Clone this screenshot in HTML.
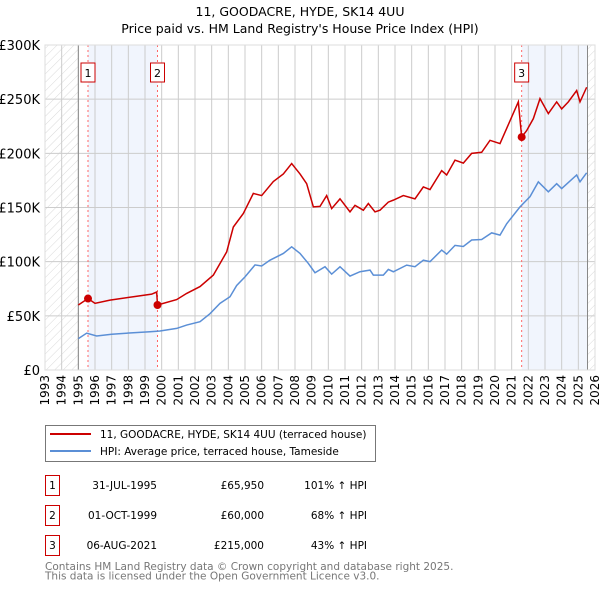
<!DOCTYPE html>
<html><head><meta charset="utf-8"><style>
body{margin:0;background:#fff;font-family:"DejaVu Sans","Liberation Sans",sans-serif;}
svg{display:block}
</style></head><body>
<svg id="chart" width="600" height="590" xmlns="http://www.w3.org/2000/svg">
<defs><pattern id="hatch" width="6" height="6" patternUnits="userSpaceOnUse" patternTransform="rotate(45)"><line x1="0" y1="0" x2="0" y2="6" stroke="#d0d0d0" stroke-width="0.8"/></pattern></defs>
<text x="300" y="16" text-anchor="middle" font-size="12.5">11, GOODACRE, HYDE, SK14 4UU</text>
<text x="300" y="33" text-anchor="middle" font-size="12.5">Price paid vs. HM Land Registry's House Price Index (HPI)</text>
<g id="plot"></g>
<g>
<rect x="45.5" y="425.5" width="330" height="36" fill="#fff" stroke="#777"/>
<line x1="50" y1="434" x2="91" y2="434" stroke="#cc0000" stroke-width="2"/>
<text x="100" y="438" font-size="10.5">11, GOODACRE, HYDE, SK14 4UU (terraced house)</text>
<line x1="50" y1="451" x2="91" y2="451" stroke="#5b8fd6" stroke-width="2"/>
<text x="100" y="455" font-size="10.5">HPI: Average price, terraced house, Tameside</text>
</g>
<g id="table" font-size="10.5"></g>
<text x="45" y="570" font-size="10.5" fill="#777">Contains HM Land Registry data © Crown copyright and database right 2025.</text>
<text x="45" y="579.5" font-size="10.5" fill="#777">This data is licensed under the Open Government Licence v3.0.</text>
</svg>
<script>
const redYears=[1995.0,1995.58,1996.0,1996.9,1998.3,1999.4,1999.7,1999.75,2000.9,2001.5,2002.3,2003.1,2003.9,2004.3,2004.9,2005.5,2006.0,2006.7,2007.3,2007.8,2008.3,2008.7,2009.1,2009.5,2009.9,2010.2,2010.7,2011.3,2011.6,2012.1,2012.4,2012.8,2013.1,2013.6,2013.9,2014.5,2015.2,2015.7,2016.1,2016.8,2017.1,2017.6,2018.1,2018.6,2019.2,2019.7,2020.3,2020.7,2021.4,2021.6,2021.9,2022.3,2022.7,2023.2,2023.7,2024.0,2024.4,2024.9,2025.1,2025.5];
const redValues=[60,65.95,61.5,64.5,67.6,70,72,60,65,70.7,77,87.6,109,132,144.5,163,161,174,181,190.6,181,172,150.6,151,161,149,158,146,152,147.5,153.7,146,147.5,155,156.8,161,158,169,166.6,184,180,193.7,191,200,201,212,209,223,247.5,215,221,232,250.5,236.7,247.5,241,247.5,258,247.5,261];
const hpiYears=[1995.0,1995.5,1996.1,1997.0,1998.3,1999.3,1999.9,2000.9,2001.5,2002.3,2002.9,2003.5,2004.1,2004.5,2005.0,2005.6,2006.0,2006.5,2007.3,2007.8,2008.3,2008.8,2009.2,2009.8,2010.2,2010.7,2011.3,2011.9,2012.5,2012.7,2013.3,2013.6,2013.9,2014.7,2015.2,2015.7,2016.1,2016.8,2017.1,2017.6,2018.1,2018.6,2019.2,2019.8,2020.3,2020.7,2021.5,2022.1,2022.6,2023.2,2023.7,2024.0,2024.9,2025.1,2025.5];
const hpiValues=[29,34,31.4,33,34.4,35.3,36,38.4,41.5,44.6,52,61.5,67.6,78,86,97,96,101.4,107.6,113.7,107.6,98.4,89.8,95.3,88.5,95.3,86.7,90.7,92.2,87.6,87.6,92.8,90.7,96.8,95.3,101.4,100,110.7,107,115,114,120,120.5,126.6,124.5,135,150.6,160,173.7,164.5,172,167.5,180,173.7,182];
const saleYears=[1995.58,1999.75,2021.6];
const saleValues=[65.95,60,215];
const saleLabels=["1","2","3"];
const saleDates=["31-JUL-1995","01-OCT-1999","06-AUG-2021"];
const salePrices=["£65,950","£60,000","£215,000"];
const saleHpi=["101% ↑ HPI","68% ↑ HPI","43% ↑ HPI"];
const yTicks=[0,50,100,150,200,250,300];
const yTickLabels=["£0","£50K","£100K","£150K","£200K","£250K","£300K"];
const xTicks=[1993,1994,1995,1996,1997,1998,1999,2000,2001,2002,2003,2004,2005,2006,2007,2008,2009,2010,2011,2012,2013,2014,2015,2016,2017,2018,2019,2020,2021,2022,2023,2024,2025,2026];

const NS="http://www.w3.org/2000/svg";
const L=45,R=595,T=45,B=370;
const x=y=>L+(y-1993)*(R-L)/33;
const yv=v=>B-v*(B-T)/300;
function mk(tag,attrs,parent){const e=document.createElementNS(NS,tag);for(const k in attrs)e.setAttribute(k,attrs[k]);parent.appendChild(e);return e;}
const g=document.getElementById('plot');
let e;
e=mk('rect',{x:L,y:T,width:x(1995)-L,height:B-T,fill:'url(#hatch)'},g);


e=mk('rect',{x:x(2025.55),y:T,width:R-x(2025.55),height:B-T,fill:'url(#hatch)'},g);


e=mk('rect',{x:x(saleYears[0]),y:T,width:x(saleYears[1])-x(saleYears[0]),height:B-T,fill:'#eef3fc',opacity:0.8},g);


e=mk('rect',{x:x(saleYears[2]),y:T,width:x(2025.55)-x(saleYears[2]),height:B-T,fill:'#eef3fc',opacity:0.8},g);


xTicks.forEach(t=>{
 e=mk('line',{x1:x(t),x2:x(t),y1:T,y2:B,stroke:'#cccccc'},g);
 
 
 e=mk('text',{x:0,y:0,'font-size':12,'text-anchor':'end',transform:`translate(${x(t)+4},${B+5}) rotate(-90)`},g);
 e.textContent=t;
 
 
});
yTicks.forEach((t,i)=>{
 e=mk('line',{x1:L,x2:R,y1:yv(t),y2:yv(t),stroke:'#cccccc'},g);
 
 
 e=mk('text',{x:L-5,y:yv(t)+5,'font-size':13,'text-anchor':'end'},g);
 e.textContent=yTickLabels[i];
 
 
});
e=mk('line',{x1:x(1995),x2:x(1995),y1:T,y2:B,stroke:'#888'},g);


e=mk('line',{x1:x(2025.55),x2:x(2025.55),y1:T,y2:B,stroke:'#888'},g);


saleYears.forEach((s,i)=>{
 e=mk('line',{x1:x(s),x2:x(s),y1:T,y2:B,stroke:'#ff6666','stroke-dasharray':'2,3'},g);
 
 
 e=mk('rect',{x:x(s)-7,y:63,width:14,height:19,fill:'#fff',stroke:'#cc0000'},g);
 
 
 e=mk('text',{x:x(s),y:77,'font-size':11,'text-anchor':'middle'},g);
 e.textContent=saleLabels[i];
 
 
});
e=mk('polyline',{points:hpiYears.map((t,i)=>x(t)+','+yv(hpiValues[i])).join(' '),fill:'none',stroke:'#5b8fd6','stroke-width':1.5},g);


e=mk('polyline',{points:redYears.map((t,i)=>x(t)+','+yv(redValues[i])).join(' '),fill:'none',stroke:'#cc0000','stroke-width':1.5},g);


saleYears.forEach((s,i)=>{
 e=mk('circle',{cx:x(s),cy:yv(saleValues[i]),r:4,fill:'#cc0000'},g);
 
 
});
e=mk('rect',{x:L,y:T,width:R-L,height:B-T,fill:'none',stroke:'#ddd'},g);
const tb=document.getElementById('table');
saleLabels.forEach((lab,i)=>{
 const cy=483+i*30;
 e=mk('rect',{x:45.5,y:cy-7.5,width:14,height:20,fill:'#fff',stroke:'#cc0000'},tb);
 
 
 e=mk('text',{x:52.5,y:cy+6,'text-anchor':'middle'},tb);e.textContent=lab;
 
 
 e=mk('text',{x:157,y:cy+6,'text-anchor':'end'},tb);e.textContent=saleDates[i];
 
 
 e=mk('text',{x:264,y:cy+6,'text-anchor':'end'},tb);e.textContent=salePrices[i];
 
 
 e=mk('text',{x:367,y:cy+6,'text-anchor':'end'},tb);e.textContent=saleHpi[i];
 
 
});
</script>
</body></html>
